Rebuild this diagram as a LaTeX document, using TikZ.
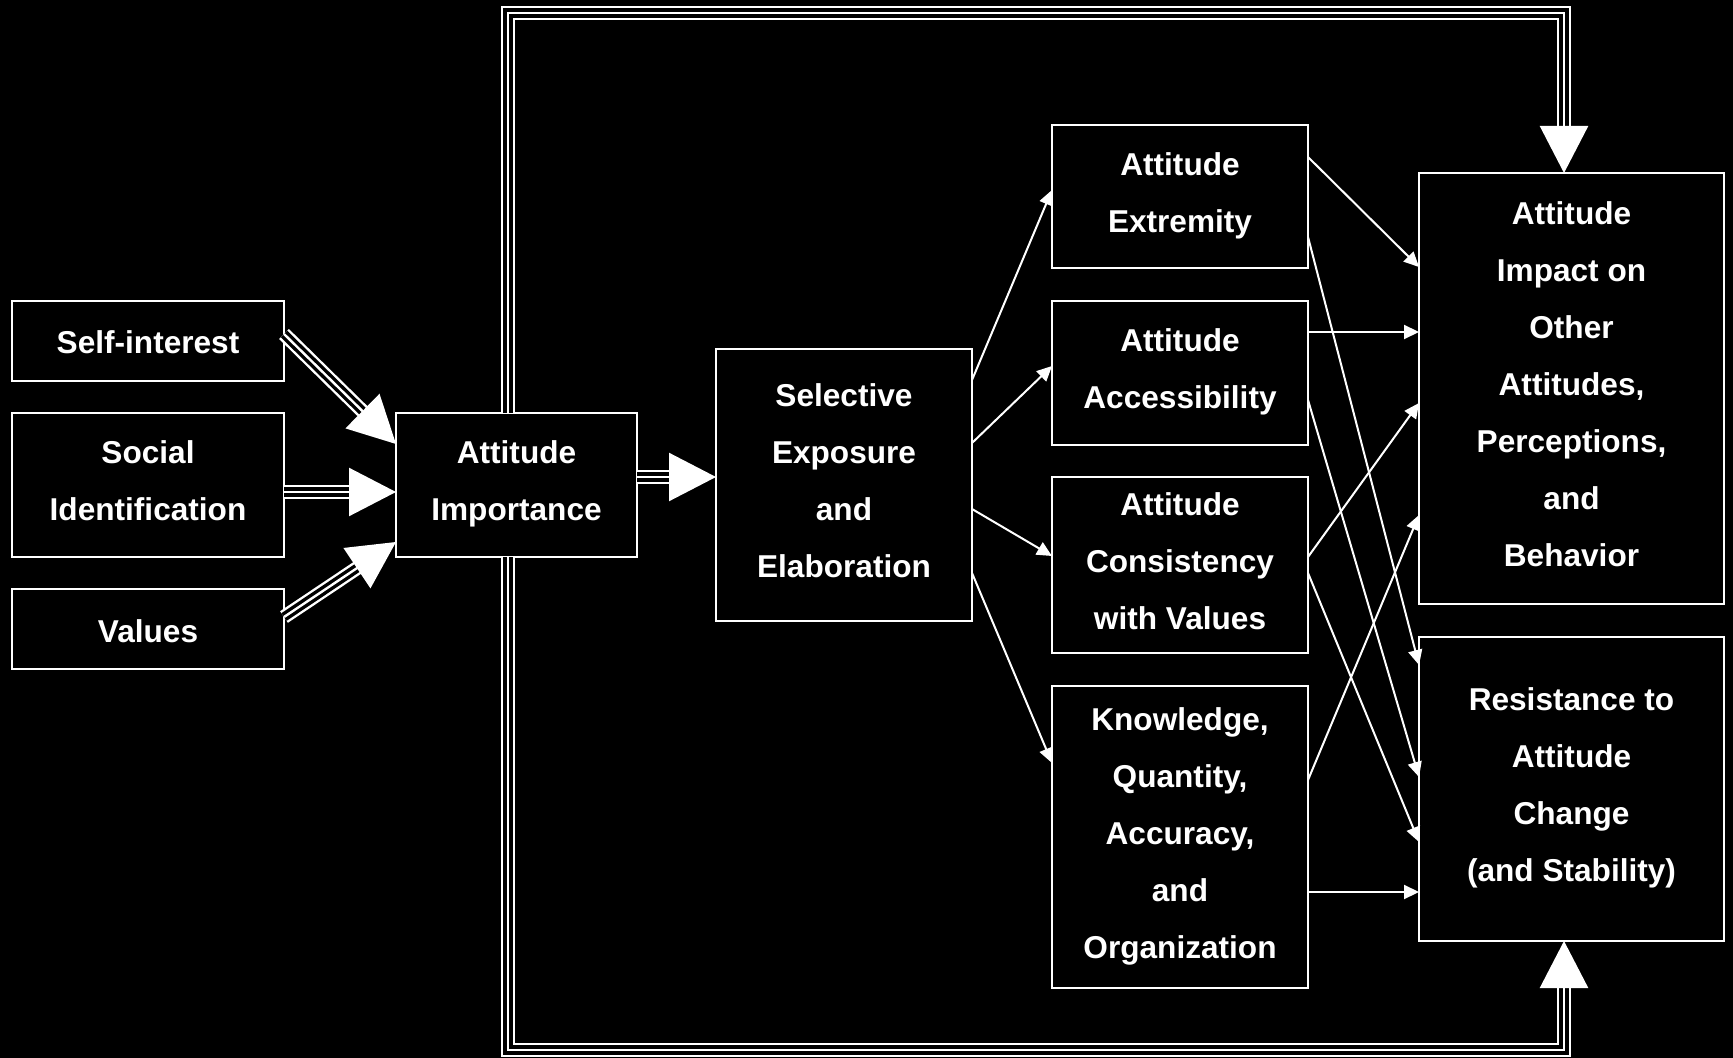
\documentclass[tikz,border=0pt]{standalone}
\usepackage{fontspec}
\setmainfont{Liberation Sans}
\usetikzlibrary{arrows.meta,calc}
\newcommand\lnstrut{\rule[-4pt]{0pt}{17pt}}
\begin{document}
\begin{tikzpicture}[x=0.5pt,y=-0.5pt,
 box/.style={draw=white, line width=1pt, fill=black, text=white, inner sep=0pt, outer sep=0pt,
   align=center, font=\fontsize{15.8pt}{28.5pt}\selectfont\bfseries,
   execute at begin node=\lnstrut, execute at end node=\lnstrut},
 oneline/.style={text height=13.5pt, text depth=0.5pt},
 conn/.style={draw=white, line width=1pt, -{Triangle[length=7.5pt,width=7pt]}},
 triple/.style={draw=white, line width=1.2pt, line join=miter, -{Triangle[length=23.5pt,width=24pt]},
   preaction={draw=white, line width=7pt, -, shorten >=20pt},
   preaction={draw=black, line width=4.6pt, -, shorten >=20pt}}
]
\useasboundingbox (0,0) rectangle (1733,1058);
\fill[black] (0,0) rectangle (1733,1058);

% nodes
\node[box, oneline, minimum width=136pt, minimum height=40pt] (self) at (148,341) {Self-interest};
\node[box, minimum width=136pt, minimum height=72pt] (social) at (148,485) {Social\\Identification};
\node[box, oneline, minimum width=136pt, minimum height=40pt] (values) at (148,629) {Values};
\node[box, minimum width=120.5pt, minimum height=72pt] (imp) at (516.5,485) {Attitude\\Importance};
\node[box, minimum width=128pt, minimum height=136pt] (sel) at (844,485) {Selective\\Exposure\\and\\Elaboration};
\node[box, minimum width=128pt, minimum height=71.5pt] (ext) at (1180,196.5) {Attitude\\Extremity};
\node[box, minimum width=128pt, minimum height=72pt] (acc) at (1180,373) {Attitude\\Accessibility};
\node[box, minimum width=128pt, minimum height=88pt] (con) at (1180,565) {Attitude\\Consistency\\with Values};
\node[box, minimum width=128pt, minimum height=151pt] (kno) at (1180,837) {Knowledge,\\Quantity,\\Accuracy,\\and\\Organization};
\node[box, minimum width=152.5pt, minimum height=215.5pt] (impact) at (1571.5,388.5) {Attitude\\Impact on\\Other\\Attitudes,\\Perceptions,\\and\\Behavior};
\node[box, minimum width=152.5pt, minimum height=152pt] (res) at (1571.5,789) {Resistance to\\Attitude\\Change\\(and Stability)};

\coordinate (ftl) at (508,13);
\coordinate (ftr) at (1564,13);
\coordinate (fbl) at (508,1050);
\coordinate (fbr) at (1564,1050);

% triple connectors
\draw[triple] (self.east |- 0,334) -- (imp.west |- 0,444);
\draw[triple] (social.east |- 0,492) -- (imp.west |- 0,492);
\draw[triple] (values.east |- 0,617) -- (imp.west |- 0,542);
\draw[triple] (imp.east |- 0,477) -- (sel.west |- 0,477);
\draw[triple] (imp.north -| ftl) -- (ftl) -- (ftr) -- (impact.north -| ftr);
\draw[triple] (imp.south -| fbl) -- (fbl) -- (fbr) -- (res.south -| fbr);

% thin connectors
\draw[conn] (sel.east |- 0,380) -- (ext.west |- 0,190);
\draw[conn] (sel.east |- 0,443) -- (acc.west |- 0,366);
\draw[conn] (sel.east |- 0,509) -- (con.west |- 0,556);
\draw[conn] (sel.east |- 0,573) -- (kno.west |- 0,763);
\draw[conn] (ext.east |- 0,157) -- (impact.west |- 0,267);
\draw[conn] (ext.east |- 0,237) -- (res.west |- 0,665);
\draw[conn] (acc.east |- 0,332) -- (impact.west |- 0,332);
\draw[conn] (acc.east |- 0,400) -- (res.west |- 0,777);
\draw[conn] (con.east |- 0,557) -- (impact.west |- 0,403);
\draw[conn] (con.east |- 0,573) -- (res.west |- 0,842);
\draw[conn] (kno.east |- 0,780) -- (impact.west |- 0,515);
\draw[conn] (kno.east |- 0,892) -- (res.west |- 0,892);
\end{tikzpicture}
\end{document}
